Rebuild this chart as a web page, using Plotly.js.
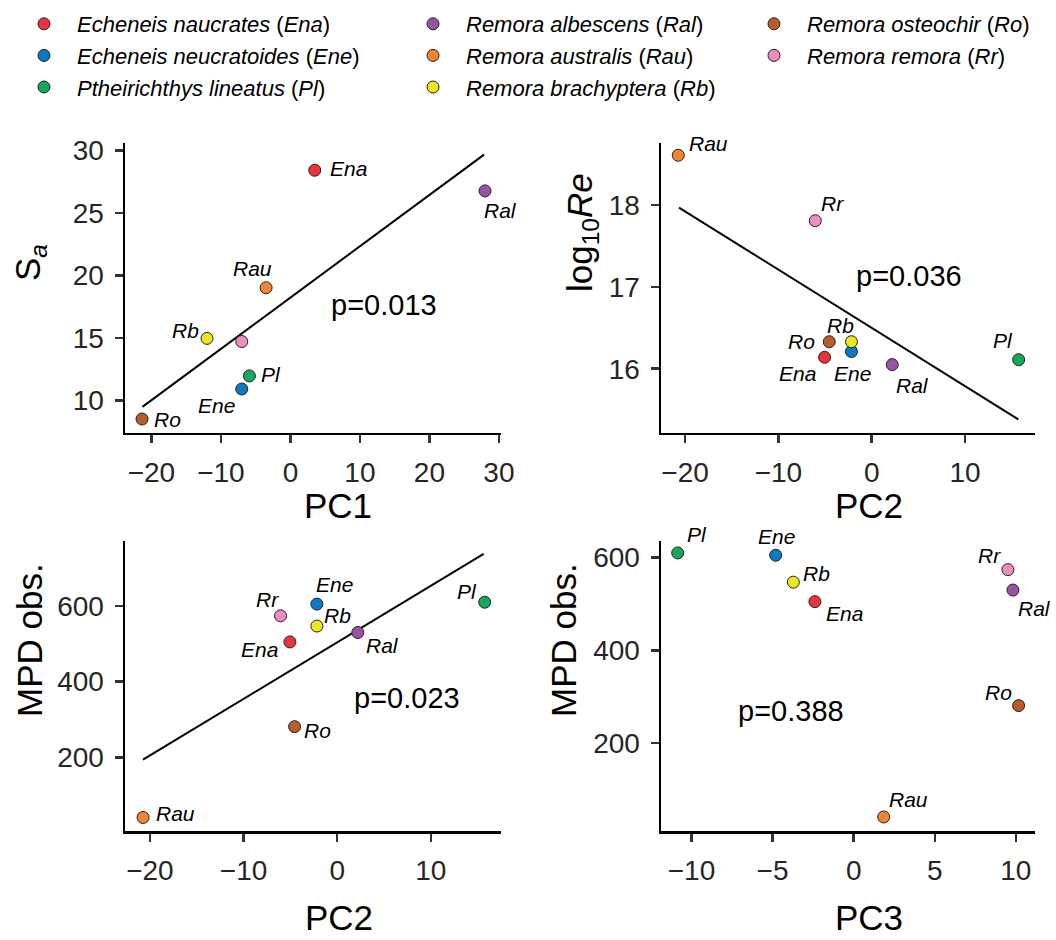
<!DOCTYPE html>
<html>
<head>
<meta charset="utf-8">
<script src="https://cdn.plot.ly/plotly-3.0.1.min.js"></script>
<style>html,body{margin:0;padding:0;background:#fff;}#chart{width:1056px;height:940px;}</style>
</head>
<body>
<div id="chart"></div>
<script>
// ---------- data ----------
const species = ['Ena', 'Ene', 'Pl', 'Ral', 'Rau', 'Rb', 'Ro', 'Rr'];
const speciesNames = ['Echeneis naucrates', 'Echeneis neucratoides', 'Ptheirichthys lineatus',
  'Remora albescens', 'Remora australis', 'Remora brachyptera', 'Remora osteochir', 'Remora remora'];
const pc1 = [3.5, -7.0, -5.9, 28.0, -3.5, -12.0, -21.35, -7.0];
const pc2 = [-5.05, -2.17, 15.75, 2.2, -20.73, -2.17, -4.55, -6.05];
const pc3 = [-2.39, -4.81, -10.85, 9.82, 1.85, -3.72, 10.17, 9.51];
const sa = [28.4, 10.9, 11.95, 26.75, 19.0, 14.95, 8.5, 14.7];
const log10Re = [16.14, 16.21, 16.11, 16.05, 18.61, 16.33, 16.33, 17.81];
const mpdObs = [505, 605, 610, 530, 41, 547, 281, 574];
const fit1X = [-21.3, 27.86], fit1Y = [9.47, 29.65];
const fit2X = [-20.65, 15.71], fit2Y = [17.97, 15.38];
const fit3X = [-20.74, 15.64], fit3Y = [193.7, 738];
const pValues = ['p=0.013', 'p=0.036', 'p=0.023', 'p=0.388'];
const pPos = [[13.4, 17.6], [4.0, 17.13], [7.4, 357], [-3.87, 270]];

// ---------- styles ----------
const colors = ['#EE3338', '#0A7BC2', '#16A85A', '#9B52A6', '#F58432', '#F0E61C', '#B85C2C', '#F08DBF'];
const FONT = 'Liberation Sans, Arial, Helvetica, sans-serif';
const W = 1056, H = 940;
const px = v => v / W, py = v => 1 - v / H;

// label offsets (pixels, yshift positive = up)
const offsets = [
  {Ena: [34, 2], Ral: [15, -20], Rau: [-14, 19], Rb: [-22, 8], Pl: [22, 1], Ene: [-25, -16], Ro: [25, 0]},
  {Rau: [30, 12], Rr: [17, 17], Ro: [-28, 0], Rb: [-11, 16], Ene: [1, -22], Ena: [-27, -16], Ral: [20, -21], Pl: [-16, 19]},
  {Rau: [32, 4], Ro: [23, -4], Ena: [-30, -8], Rr: [-13, 16], Ene: [18, 20], Rb: [21, 11], Ral: [25, -13], Pl: [-18, 11]},
  {Pl: [19, 18], Ene: [1, 19], Rb: [23, 9], Ena: [30, -12], Rr: [-18, 14], Ral: [22, -18], Ro: [-20, 13], Rau: [25, 17]}
];

const panels = [
  {xa: 'x', ya: 'y', xs: pc1, ys: sa, fx: fit1X, fy: fit1Y},
  {xa: 'x2', ya: 'y2', xs: pc2, ys: log10Re, fx: fit2X, fy: fit2Y},
  {xa: 'x3', ya: 'y3', xs: pc2, ys: mpdObs, fx: fit3X, fy: fit3Y},
  {xa: 'x4', ya: 'y4', xs: pc3, ys: mpdObs, fx: null, fy: null}
];

const traces = [];
const annotations = [];
panels.forEach((p, pi) => {
  if (p.fx) {
    traces.push({type: 'scatter', mode: 'lines', x: p.fx, y: p.fy, xaxis: p.xa, yaxis: p.ya,
      line: {color: '#000', width: 2}, showlegend: false, hoverinfo: 'skip'});
  }
  species.forEach((s, i) => {
    const lg = i < 3 ? 'legend' : (i < 6 ? 'legend2' : 'legend3');
    traces.push({type: 'scatter', mode: 'markers', x: [p.xs[i]], y: [p.ys[i]], xaxis: p.xa, yaxis: p.ya,
      name: '<i>' + speciesNames[i] + '</i> (<i>' + s + '</i>)',
      legend: lg, legendgroup: s, showlegend: pi === 0,
      marker: {color: colors[i], size: 12, line: {color: '#222', width: 1}}});
    const off = offsets[pi][s];
    if (off) {
      annotations.push({xref: p.xa, yref: p.ya, x: p.xs[i], y: p.ys[i], text: s, showarrow: false,
        xshift: off[0], yshift: off[1], xanchor: 'center', yanchor: 'middle',
        font: {family: FONT, size: 21, color: '#000', style: 'italic'}});
    }
  });
  annotations.push({xref: p.xa, yref: p.ya, x: pPos[pi][0], y: pPos[pi][1], text: pValues[pi],
    showarrow: false, xanchor: 'center', yanchor: 'middle', font: {family: FONT, size: 29, color: '#000'}});
});

// axis titles
const titleFont = {family: FONT, size: 35, color: '#000'};
[
  ['PC1', 338, 505, 0, 'middle'], ['PC2', 869, 505, 0, 'middle'],
  ['PC2', 339, 939, 0, 'bottom'], ['PC3', 869, 939, 0, 'bottom'],
  ['S<sub><i>a</i></sub>', 30, 263, -90, 'middle'], ['log<sub>10</sub><i>Re</i>', 582, 233, -90, 'middle'],
  ['MPD obs.', 29, 640, -90, 'middle'], ['MPD obs.', 563, 640, -90, 'middle']
].forEach(t => annotations.push({xref: 'paper', yref: 'paper', x: px(t[1]), y: py(t[2]), text: t[0],
  textangle: t[3], showarrow: false, xanchor: 'center', yanchor: t[4], font: titleFont}));

function axis(domain, anchor, range, dtick, tick0) {
  return {domain: domain, anchor: anchor, range: range, dtick: dtick, tick0: tick0, tickmode: 'linear',
    showline: true, linecolor: '#000', linewidth: 2.5, mirror: false,
    ticks: 'outside', ticklen: 8, tickwidth: 2.5, tickcolor: '#333',
    showgrid: false, zeroline: false, ticklabelstandoff: 5,
    tickfont: {family: FONT, size: 28, color: '#262626'}};
}
const xdL = [px(125), px(501)], xdR = [px(661), px(1035)];
const ydT = [py(432.5), py(143)], ydB = [py(831), py(541)];

const layout = {
  width: W, height: H, margin: {l: 0, r: 0, t: 0, b: 0},
  paper_bgcolor: '#fff', plot_bgcolor: '#fff',
  font: {family: FONT, color: '#000'},
  xaxis: axis(xdL, 'y', [-23.8, 30.3], 10, 0),
  yaxis: axis(ydT, 'x', [7.42, 30.58], 5, 0),
  xaxis2: axis(xdR, 'y2', [-22.58, 17.5], 10, 0),
  yaxis2: axis(ydT, 'x2', [15.22, 18.76], 1, 0),
  xaxis3: axis(xdL, 'y3', [-22.66, 17.49], 10, 0),
  yaxis3: axis(ydB, 'x3', [5.2, 771.8], 200, 0),
  xaxis4: axis(xdR, 'y4', [-11.88, 11.18], 5, 0),
  yaxis4: axis(ydB, 'x4', [10.8, 635.7], 200, 0),
  annotations: annotations,
  hovermode: false
};
const legendBase = {orientation: 'v', xanchor: 'left', yanchor: 'top', y: py(3), itemwidth: 56,
  bgcolor: 'rgba(0,0,0,0)', borderwidth: 0, font: {family: FONT, size: 22, color: '#000'},
  traceorder: 'normal', tracegroupgap: 0};
layout.legend = Object.assign({}, legendBase, {x: px(11)});
layout.legend2 = Object.assign({}, legendBase, {x: px(400)});
layout.legend3 = Object.assign({}, legendBase, {x: px(741)});

Plotly.newPlot('chart', traces, layout, {staticPlot: true, displayModeBar: false});
</script>
</body>
</html>
